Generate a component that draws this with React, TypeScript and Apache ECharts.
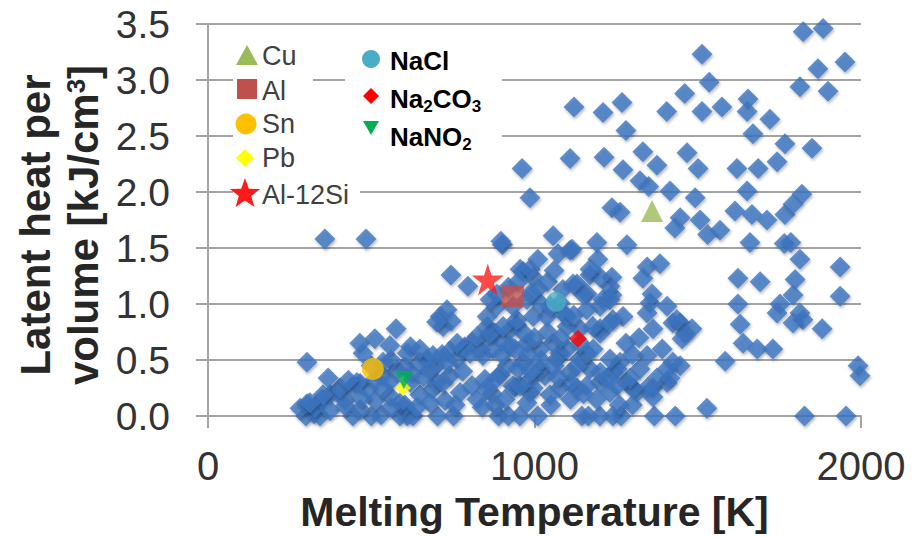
import React, { useEffect, useRef } from "react";
import * as echarts from "echarts";

// ---------- data (melting temperature [K], latent heat per volume [kJ/cm3]) ----------
const zeroRow: [number, number][] = [
  [300, 0], [325, 0.02], [343, 0], [444, 0], [500, 0], [530, 0.01], [588, 0], [610, 0], [628, 0],
  [703, 0], [752, 0], [890, 0], [920, 0], [955, 0], [1010, 0], [1145, 0], [1165, 0], [1200, 0],
  [1240, 0], [1265, 0], [1367, 0], [1431, 0], [1827, 0], [1954, 0], [1528, 0.07],
];

const lowerBand: [number, number][] = [
  [282, 0.07], [303, 0.11], [328, 0.08], [349, 0.15], [374, 0.19], [398, 0.22], [420, 0.14], [441, 0.26],
  [466, 0.29], [490, 0.24], [512, 0.33], [533, 0.37], [557, 0.31], [579, 0.41], [603, 0.44], [625, 0.38],
  [649, 0.48], [671, 0.51], [695, 0.44], [717, 0.55], [741, 0.58], [763, 0.51], [787, 0.62], [809, 0.66],
  [833, 0.59], [855, 0.7], [879, 0.74], [900, 0.67], [925, 0.77], [946, 0.81], [971, 0.73],
  [374, 0.05], [420, 0.09], [466, 0.06], [512, 0.14], [557, 0.18], [603, 0.1], [649, 0.19], [689, 0.24],
  [726, 0.14], [772, 0.21], [809, 0.27], [848, 0.33], [894, 0.37], [940, 0.26], [986, 0.32], [1032, 0.36],
  [870, 0.2], [824, 0.15], [757, 0.1], [352, 0.19], [312, 0.12], [404, 0.25], [456, 0.3], [536, 0.25], [588, 0.12],
  [620, 0.3], [660, 0.35], [700, 0.3], [740, 0.36], [780, 0.4], [720, 0.3], [680, 0.12], [640, 0.08],
  [560, 0.08], [470, 0.16], [430, 0.32], [500, 0.45], [560, 0.5], [620, 0.62], [880, 0.1], [840, 0.08],
  [910, 0.15],
];

const upperLeft: [number, number][] = [
  [358, 1.58], [484, 1.58], [744, 1.26], [796, 1.16], [711, 0.89], [732, 0.95], [720, 0.8], [745, 0.85],
  [700, 0.84], [576, 0.78], [465, 0.65], [511, 0.69], [303, 0.48], [368, 0.34], [557, 0.63], [610, 0.56],
  [649, 0.6], [689, 0.54], [680, 0.42], [732, 0.48], [781, 0.6], [763, 0.65], [824, 0.71], [803, 0.56],
  [842, 0.54], [855, 0.8], [475, 0.56], [536, 0.48],
];

const centralCluster: [number, number][] = [
  [965, 1.29], [996, 1.24], [1011, 1.14], [1087, 1.13], [1130, 1.18], [1170, 1.26], [1237, 1.24], [1161, 1.09],
  [1210, 1.04], [1237, 1.08], [1271, 0.89], [1240, 0.86], [1201, 0.78], [1354, 1.01], [1406, 0.98], [1345, 0.92],
  [1424, 0.83], [1363, 0.78], [1391, 0.6], [1345, 0.54], [1323, 0.42], [1262, 0.48], [1240, 0.39], [1201, 0.3],
  [1283, 0.3], [1314, 0.21], [1363, 0.25], [1406, 0.3], [1424, 0.48], [1170, 0.42], [1139, 0.51], [1109, 0.39],
  [1078, 0.25], [1130, 0.25], [1048, 0.19], [986, 0.21], [934, 0.27], [885, 0.34], [855, 0.25], [916, 0.45],
  [965, 0.48], [1017, 0.42], [1069, 0.51], [1057, 0.65], [1017, 0.6], [977, 0.65], [925, 0.63], [873, 0.6],
  [864, 0.74], [904, 0.8], [946, 0.86], [996, 0.89], [1038, 0.89], [1087, 0.92], [1100, 0.8], [1139, 0.78],
  [855, 0.89], [885, 0.98], [934, 0.98], [977, 1.04], [1017, 1.01], [1048, 0.98], [1078, 1.01], [885, 1.09],
  [864, 1.04], [902, 1.53], [1057, 1.61], [1072, 1.45], [1115, 1.49], [1191, 1.55], [1194, 1.4], [1283, 1.53],
  [1345, 1.33], [1384, 1.36], [1332, 1.23], [1360, 1.09], [1446, 0.83], [1461, 0.74], [1482, 0.78], [1452, 0.69],
  [1446, 0.45], [1406, 0.42], [1375, 0.34], [1345, 0.25], [1363, 0.17], [1302, 0.25], [1293, 0.34], [1253, 0.42],
  [1231, 0.51], [1201, 0.39], [1201, 0.74], [1231, 1.16], [1201, 1.24], [1170, 1.31], [1109, 1.48], [956, 1.31],
  [986, 1.31], [1148, 1.09], [1118, 1.18], [1179, 0.8], [1100, 0.89], [1160, 0.56], [1130, 0.45], [1078, 0.56],
  [1109, 0.3], [1160, 0.27], [1222, 0.34], [1253, 0.27], [1231, 0.21], [996, 0.25], [956, 0.27], [977, 0.12],
  [1231, 1.04], [1201, 0.98], [1231, 0.83], [1415, 0.34], [1436, 0.86],
  [900, 0.55], [940, 0.6], [980, 0.55], [1020, 0.5], [1060, 0.45], [1100, 0.6], [1140, 0.65], [1180, 0.6],
  [1000, 0.7], [1040, 0.75], [1080, 0.7], [1120, 0.9], [1160, 0.95], [950, 0.42], [990, 0.4], [1070, 0.35],
  [1110, 0.15], [1150, 0.2], [1190, 0.15], [1050, 0.1], [920, 1.15], [950, 1.2], [990, 1.1], [1040, 1.2],
  [1060, 1.3], [1010, 1.4], [1280, 0.65], [1320, 0.7], [1300, 0.55], [1260, 0.1], [1300, 0.1],
];

const rightCluster: [number, number][] = [
  [1936, 1.33], [1623, 1.23], [1691, 1.2], [1798, 1.22], [1792, 1.08], [1752, 1.0], [1743, 0.92], [1813, 0.92],
  [1822, 0.86], [1792, 0.83], [1881, 0.78], [1936, 1.07], [1623, 1.0], [1630, 0.82], [1639, 0.65], [1682, 0.6],
  [1730, 0.6], [1584, 0.49], [1991, 0.45], [1997, 0.36],
];

const upperCluster: [number, number][] = [
  [1823, 3.43], [1884, 3.46], [1951, 3.16], [1868, 3.1], [1813, 2.94], [1899, 2.9], [1513, 3.23], [1535, 2.98],
  [1460, 2.88], [1405, 2.72], [1513, 2.72], [1574, 2.76], [1654, 2.83], [1651, 2.72], [1721, 2.65], [1669, 2.52],
  [1767, 2.43], [1850, 2.39], [1467, 2.35], [1501, 2.21], [1620, 2.21], [1685, 2.21], [1743, 2.27], [1415, 2.01],
  [1492, 1.95], [1651, 2.01], [1614, 1.83], [1666, 1.8], [1712, 1.75], [1767, 1.8], [1819, 1.98], [1792, 1.89],
  [1446, 1.77], [1430, 1.68], [1507, 1.75], [1568, 1.66], [1530, 1.62], [1660, 1.55], [1765, 1.54], [1785, 1.55],
  [1813, 1.4], [1121, 2.76], [1210, 2.71], [1268, 2.8], [1280, 2.55], [962, 2.21], [1109, 2.3], [1213, 2.31],
  [1332, 2.36], [1375, 2.24], [1271, 2.2], [1323, 2.1], [1350, 2.05], [986, 1.95], [1237, 1.86], [1262, 1.82],
  [897, 1.56],
];

const cuPoint: [number, number][] = [[1360, 1.83]];
const alPoint: [number, number][] = [[934, 1.07]];
const snPoint: [number, number][] = [[505, 0.42]];
const pbPoint: [number, number][] = [[597, 0.25]];
const alSiPoint: [number, number][] = [[857, 1.22]];
const naclPoint: [number, number][] = [[1066, 1.02]];
const na2co3Point: [number, number][] = [[1133, 0.69]];
const nano2Point: [number, number][] = [[600, 0.32]];

const xRange = [0, 2000];
const xStep = 1000;
const yRange = [0, 3.5];
const yStep = 0.5;

const metalLegend = ["Cu", "Al", "Sn", "Pb", "Al-12Si"];
const saltLegend = ["{b|NaCl}", "{b|Na}{s|2}{b|CO}{s|3}", "{b|NaNO}{s|2}"];

const FONT = '"Liberation Sans", Arial, sans-serif';
const STAR =
  "path://M50,0L61.2,34.5L97.6,34.5L68.2,55.9L79.4,90.5L50,69.1L20.6,90.5L31.8,55.9L2.4,34.5L38.8,34.5Z";

function starPoints(cx: number, cy: number, ro: number, ri: number) {
  const pts: number[][] = [];
  for (let i = 0; i < 10; i++) {
    const a = -Math.PI / 2 + (i * Math.PI) / 5;
    const r = i % 2 === 0 ? ro : ri;
    pts.push([cx + r * Math.cos(a), cy + r * Math.sin(a)]);
  }
  return pts;
}

export default function App() {
  const ref = useRef<HTMLDivElement>(null);
  useEffect(() => {
    if (!ref.current) return;
    const chart = echarts.init(ref.current, undefined, { renderer: "svg" });
    const materials = [
      ...zeroRow, ...lowerBand, ...upperLeft, ...centralCluster, ...rightCluster, ...upperCluster,
    ];
    const gray = "#a3a3a3";
    const special = (name: string, data: [number, number][], symbol: string, size: number, color: string, rotate = 0) => ({
      type: "scatter" as const,
      name,
      data,
      symbol,
      symbolSize: size,
      symbolRotate: rotate,
      itemStyle: { color },
      z: 5,
      silent: true,
    });
    const legendTextY = [56, 91, 124, 158, 195];
    const saltTextY = [61, 99, 137];
    const option: any = {
      animation: false,
      backgroundColor: "#ffffff",
      grid: { left: 208, top: 24, width: 653, height: 397 },
      xAxis: {
        type: "value",
        min: xRange[0],
        max: xRange[1],
        interval: xStep,
        name: "Melting Temperature [K]",
        nameLocation: "middle",
        nameGap: 71,
        nameTextStyle: { fontFamily: FONT, fontSize: 41, fontWeight: "bold", color: "#262626" },
        axisLine: { show: true, lineStyle: { color: gray, width: 2 } },
        axisTick: { show: true, length: 12, lineStyle: { color: gray, width: 2 } },
        splitLine: { show: false },
        axisLabel: { fontFamily: FONT, fontSize: 40, color: "#333", margin: 30, formatter: (v: number) => String(v) },
      },
      yAxis: {
        type: "value",
        min: yRange[0],
        max: yRange[1],
        interval: yStep,
        axisLine: { show: true, lineStyle: { color: gray, width: 2 } },
        axisTick: { show: true, length: 12, lineStyle: { color: gray, width: 2 } },
        splitLine: { show: true, lineStyle: { color: gray, width: 2 } },
        axisLabel: {
          fontFamily: FONT,
          fontSize: 39,
          color: "#333",
          margin: 38,
          formatter: (v: number) => v.toFixed(1),
        },
      },
      series: [
        {
          type: "scatter",
          name: "Materials",
          data: materials,
          symbol: "diamond",
          symbolSize: 21,
          silent: true,
          itemStyle: {
            color: "#3c74c0",
            shadowBlur: 3,
            shadowColor: "rgba(0,0,0,0.35)",
            shadowOffsetX: 1,
            shadowOffsetY: 2,
          },
          z: 2,
        },
        special("Pb", pbPoint, "diamond", 16, "#ffff00"),
        special("Sn", snPoint, "circle", 22, "#ffc000"),
        special("NaNO2", nano2Point, "triangle", 18, "#00b050", 180),
        special("Al", alPoint, "rect", 22, "#c0504d"),
        special("Al-12Si", alSiPoint, STAR, 32, "#ff1a1a"),
        special("NaCl", naclPoint, "circle", 20, "#4bacc6"),
        special("Na2CO3", na2co3Point, "diamond", 18, "#ff0000"),
        special("Cu", cuPoint, "triangle", 22, "#9bbb59"),
      ],
      graphic: [
        // legend backgrounds
        { type: "rect", z: 5, shape: { x: 233, y: 30, width: 80, height: 185 }, style: { fill: "#fff" } },
        { type: "rect", z: 5, shape: { x: 233, y: 110, width: 112, height: 105 }, style: { fill: "#fff" } },
        { type: "rect", z: 5, shape: { x: 233, y: 180, width: 127, height: 35 }, style: { fill: "#fff" } },
        { type: "rect", z: 5, shape: { x: 345, y: 35, width: 157, height: 128 }, style: { fill: "#fff" } },
        // metal legend markers
        { type: "polygon", z: 6, shape: { points: [[236, 65], [258, 65], [247, 45]] }, style: { fill: "#9bbb59" } },
        { type: "rect", z: 6, shape: { x: 237, y: 79, width: 20, height: 20 }, style: { fill: "#c0504d" } },
        { type: "circle", z: 6, shape: { cx: 246, cy: 124, r: 10.5 }, style: { fill: "#ffc000" } },
        { type: "polygon", z: 6, shape: { points: [[245, 149], [254, 158], [245, 167], [236, 158]] }, style: { fill: "#ffff00" } },
        { type: "polygon", z: 6, shape: { points: starPoints(245, 194, 16, 6.5) }, style: { fill: "#ff1a1a" } },
        ...metalLegend.map((t, i) => ({
          type: "text",
          z: 7,
          x: 262,
          y: legendTextY[i],
          style: { text: t, fontFamily: FONT, fontSize: 27, fill: "#404040", align: "left", verticalAlign: "middle" },
        })),
        // salt legend markers
        { type: "circle", z: 6, shape: { cx: 371, cy: 59, r: 9 }, style: { fill: "#4bacc6" } },
        { type: "polygon", z: 6, shape: { points: [[371, 88], [379, 96], [371, 104], [363, 96]] }, style: { fill: "#ff0000" } },
        { type: "polygon", z: 6, shape: { points: [[363, 121], [379, 121], [371, 135]] }, style: { fill: "#00b050" } },
        ...saltLegend.map((t, i) => ({
          type: "text",
          z: 7,
          x: 390,
          y: saltTextY[i],
          style: {
            text: t,
            align: "left",
            verticalAlign: "middle",
            fill: "#000",
            rich: {
              b: { fontFamily: FONT, fontSize: 26, fontWeight: "bold", fill: "#000" },
              s: { fontFamily: FONT, fontSize: 17, fontWeight: "bold", fill: "#000", padding: [14, 0, 0, 0] },
            },
          },
        })),
        // y axis title
        {
          type: "text",
          z: 7,
          x: 59,
          y: 225,
          rotation: Math.PI / 2,
          style: {
            text: "{a|Latent heat per}\n{a|volume [kJ/cm}{s|3}{a|]}",
            align: "center",
            verticalAlign: "middle",
            fill: "#262626",
            rich: {
              a: { fontFamily: FONT, fontSize: 42, fontWeight: "bold", lineHeight: 48, fill: "#262626" },
              s: { fontFamily: FONT, fontSize: 26, fontWeight: "bold", lineHeight: 48, fill: "#262626", padding: [0, 0, 14, 0] },
            },
          },
        },
      ],
    };
    chart.setOption(option);
    return () => chart.dispose();
  }, []);
  return (
    <div
      ref={ref}
      style={{ position: "fixed", left: 0, top: 0, width: 919, height: 537, background: "#fff" }}
    />
  );
}
